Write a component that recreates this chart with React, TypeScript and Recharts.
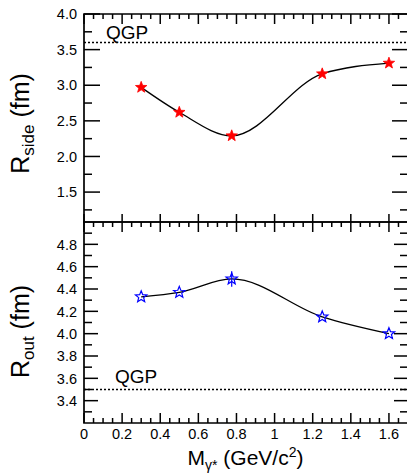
import {
  ComposedChart,
  ErrorBar,
  Line,
  ReferenceArea,
  ReferenceLine,
  Scatter,
  XAxis,
  YAxis,
} from 'recharts'

// invariant mass bins (GeV/c^2) and fitted radii (fm)
const mass = [0.3, 0.5, 0.775, 1.25, 1.6]
const rSide = [2.97, 2.62, 2.29, 3.16, 3.31]
const rOut = [4.33, 4.37, 4.49, 4.15, 4.0]
const rOutErr = [0, 0, 0.07, 0, 0]

const qgpSide = 3.6
const qgpOut = 3.5

const massMajor = [0, 0.2, 0.4, 0.6, 0.8, 1, 1.2, 1.4, 1.6]
const massMinor = [
  0.05, 0.1, 0.15, 0.25, 0.3, 0.35, 0.45, 0.5, 0.55, 0.65, 0.7, 0.75, 0.85,
  0.9, 0.95, 1.05, 1.1, 1.15, 1.25, 1.3, 1.35, 1.45, 1.5, 1.55, 1.65,
]
const sideMajor = [1.5, 2, 2.5, 3, 3.5, 4]
const sideMinor = [1.25, 1.75, 2.25, 2.75, 3.25, 3.75]
const outMajor = [3.4, 3.6, 3.8, 4, 4.2, 4.4, 4.6, 4.8]
const outMinor = [3.3, 3.5, 3.7, 3.9, 4.1, 4.3, 4.5, 4.7, 4.9]

const sideData = mass.map((x, i) => ({ x, y: rSide[i] }))
const outData = mass.map((x, i) => ({ x, y: rOut[i], err: rOutErr[i] }))

const W = 420
const PL = 84
const PR = 408
const FONT = 'Liberation Sans, Arial, sans-serif'

const has = (arr: number[], v: number) => arr.some((a) => Math.abs(a - v) < 1e-6)

function starPath(cx: number, cy: number, R: number, r: number) {
  let d = ''
  for (let i = 0; i < 10; i++) {
    const rad = i % 2 === 0 ? R : r
    const a = -Math.PI / 2 + (i * Math.PI) / 5
    d += (i === 0 ? 'M' : 'L') + (cx + rad * Math.cos(a)).toFixed(2) + ',' + (cy + rad * Math.sin(a)).toFixed(2)
  }
  return d + 'Z'
}

const RedStar = (p: any) => (
  <path d={starPath(p.cx, p.cy, 6, 2.5)} fill="#ff0000" stroke="#ff0000" strokeWidth={0.8} />
)
const BlueStar = (p: any) => (
  <path d={starPath(p.cx, p.cy, 6, 2.6)} fill="none" stroke="#0000ff" strokeWidth={1.2} />
)

function yTick(major: number[], bigLen: number, smallLen: number) {
  return (props: any) => {
    const { y, payload } = props
    const v = payload.value
    const big = has(major, v)
    const len = big ? bigLen : smallLen
    return (
      <g>
        <line x1={PL} x2={PL + len} y1={y} y2={y} stroke="#000" strokeWidth={1.5} />
        <line x1={PR - len} x2={PR} y1={y} y2={y} stroke="#000" strokeWidth={1.5} />
        {big && (
          <text x={PL - 7} y={y} dy="0.36em" textAnchor="end" fontSize={14.5} fontFamily={FONT} fill="#000">
            {v.toFixed(1)}
          </text>
        )}
      </g>
    )
  }
}

function xTick(top: number, bottom: number, labels: boolean, bottomMinor: boolean) {
  return (props: any) => {
    const { x, payload } = props
    const v = payload.value
    const big = has(massMajor, v)
    const down = big ? 10 : 5
    const up = big ? (labels ? 10 : 8) : bottomMinor ? 5 : 0
    return (
      <g>
        <line x1={x} x2={x} y1={top} y2={top + down} stroke="#000" strokeWidth={1.5} />
        {up > 0 && <line x1={x} x2={x} y1={bottom - up} y2={bottom} stroke="#000" strokeWidth={1.5} />}
        {labels && big && (
          <text x={x} y={bottom + 16} textAnchor="middle" fontSize={14.5} fontFamily={FONT} fill="#000">
            {v === 0 ? '0' : v === 1 ? '1' : v.toFixed(1)}
          </text>
        )}
      </g>
    )
  }
}

const qgpLabel = (dx: number, dy: number) => (props: any) => {
  const vb = props.viewBox
  return (
    <text x={vb.x + dx} y={vb.y - dy} fontSize={19} fontFamily={FONT} fill="#000">
      QGP
    </text>
  )
}

const xTicks = [...massMajor, ...massMinor].sort((a, b) => a - b)

export default function App() {
  return (
    <div
      style={{
        position: 'absolute',
        left: 0,
        top: 0,
        width: 407,
        height: 475,
        overflow: 'hidden',
        background: '#fff',
        fontFamily: FONT,
      }}
    >
      <div style={{ position: 'absolute', left: 0, top: 0 }}>
        <ComposedChart width={W} height={230} data={sideData} margin={{ top: 14, right: W - PR, bottom: 0, left: 0 }}>
          <XAxis
            type="number"
            dataKey="x"
            domain={[0, 1.7]}
            ticks={xTicks}
            interval={0}
            height={8}
            tickLine={false}
            axisLine={false}
            tick={xTick(14, 222, false, false)}
          />
          <YAxis
            type="number"
            domain={[1.08, 4]}
            allowDataOverflow
            ticks={[...sideMajor, ...sideMinor]}
            interval={0}
            width={PL}
            tickLine={false}
            axisLine={false}
            tick={yTick(sideMajor, 16, 8)}
          />
          <ReferenceLine y={qgpSide} stroke="#000" strokeWidth={1.6} strokeDasharray="2 2" label={qgpLabel(22, 3)} />
          <Line type="monotone" dataKey="y" stroke="#000" strokeWidth={1.3} dot={false} isAnimationActive={false} />
          <Scatter dataKey="y" shape={RedStar} isAnimationActive={false} />
          <ReferenceArea x1={0} x2={1.7} y1={1.08} y2={4} fill="none" stroke="#000" strokeWidth={1.7} />
        </ComposedChart>
      </div>
      <div style={{ position: 'absolute', left: 0, top: 214 }}>
        <ComposedChart width={W} height={261} data={outData} margin={{ top: 8, right: W - PR, bottom: 0, left: 0 }}>
          <XAxis
            type="number"
            dataKey="x"
            domain={[0, 1.7]}
            ticks={xTicks}
            interval={0}
            height={52}
            tickLine={false}
            axisLine={false}
            tick={xTick(8, 209, true, true)}
          />
          <YAxis
            type="number"
            domain={[3.2, 5]}
            allowDataOverflow
            ticks={[...outMajor, ...outMinor]}
            interval={0}
            width={PL}
            tickLine={false}
            axisLine={false}
            tick={yTick(outMajor, 14, 8)}
          />
          <ReferenceLine y={qgpOut} stroke="#000" strokeWidth={1.6} strokeDasharray="2 2" label={qgpLabel(31, 7)} />
          <Line type="monotone" dataKey="y" stroke="#000" strokeWidth={1.3} dot={false} isAnimationActive={false} />
          <Scatter dataKey="y" shape={BlueStar} isAnimationActive={false}>
            <ErrorBar dataKey="err" direction="y" width={0} stroke="#0000ff" strokeWidth={1.2} />
          </Scatter>
          <ReferenceArea x1={0} x2={1.7} y1={3.2} y2={5} fill="none" stroke="#000" strokeWidth={1.7} />
        </ComposedChart>
      </div>
      <svg width={407} height={475} style={{ position: 'absolute', left: 0, top: 0, pointerEvents: 'none' }}>
        <text transform="translate(28.5,123.5) rotate(-90)" textAnchor="middle" fontSize={25} fontFamily={FONT} fill="#000">
          R
          <tspan fontSize={17} dy={5}>
            side
          </tspan>
          <tspan dy={-5}> (fm)</tspan>
        </text>
        <text transform="translate(28.5,331.5) rotate(-90)" textAnchor="middle" fontSize={25} fontFamily={FONT} fill="#000">
          R
          <tspan fontSize={17} dy={5}>
            out
          </tspan>
          <tspan dy={-5}> (fm)</tspan>
        </text>
        <text x={245.5} y={465} textAnchor="middle" fontSize={21} fontFamily={FONT} fill="#000">
          M
          <tspan fontSize={14} dy={5}>
            γ*
          </tspan>
          <tspan dy={-5}> (GeV/c</tspan>
          <tspan fontSize={14} dy={-8}>
            2
          </tspan>
          <tspan dy={8}>)</tspan>
        </text>
      </svg>
    </div>
  )
}
